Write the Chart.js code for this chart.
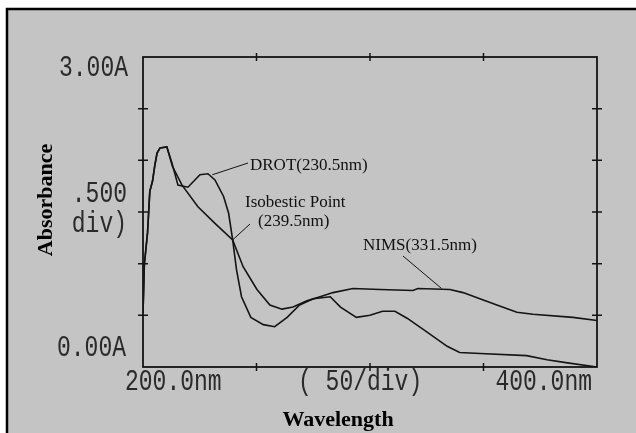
<!DOCTYPE html>
<html>
  <head>
    <title>Absorbance spectra</title>
    <style>
      body { margin: 0; background: #fff; }
    </style>
  </head>
  <body>
    <div style="width: 636px; height: 433px">
      <canvas id="canvas" width="636" height="433"></canvas>
    </div>
    <script src="https://cdn.jsdelivr.net/npm/chart.js@4.4.1/dist/chart.umd.min.js"></script>
    <script>
      // wavelengths (nm) and absorbance
      const drotNm = [200, 200.6, 201, 202, 203, 204.2, 205.2, 206.2, 207.5, 210.5, 212.8, 215.4, 219.8, 225.1, 228.6, 231.7, 235.5, 237.7, 239.5, 241.2, 243.4, 247.5, 253, 258, 263.5, 269, 275, 282.5, 287, 294, 300, 305.5, 311, 316.5, 325, 334, 339.5, 348.5, 369, 378, 387, 400];
      const drotAbs = [0.52, 1.0, 1.08, 1.3, 1.7, 1.8, 1.95, 2.07, 2.12, 2.13, 1.97, 1.76, 1.74, 1.86, 1.87, 1.81, 1.65, 1.49, 1.23, 0.94, 0.68, 0.48, 0.41, 0.39, 0.48, 0.6, 0.66, 0.68, 0.58, 0.48, 0.5, 0.54, 0.54, 0.47, 0.34, 0.2, 0.14, 0.13, 0.11, 0.07, 0.04, 0.0];
      const nimsNm = [200, 200.6, 201, 202, 203, 204.2, 205.2, 206.2, 207.5, 210.5, 213, 217.2, 224.2, 231.7, 239.5, 244.1, 250.2, 255.9, 261.2, 266.1, 272.2, 278, 283.7, 292.5, 304.4, 318.9, 321.1, 335.2, 341, 348.4, 355.9, 364.7, 371.8, 389.4, 400];
      const nimsAbs = [0.52, 1.0, 1.08, 1.3, 1.7, 1.8, 1.95, 2.07, 2.12, 2.13, 1.94, 1.76, 1.55, 1.39, 1.23, 0.97, 0.75, 0.6, 0.56, 0.58, 0.64, 0.68, 0.72, 0.76, 0.75, 0.74, 0.76, 0.75, 0.72, 0.66, 0.6, 0.53, 0.51, 0.48, 0.45];

      const xTicks = [200, 250, 300, 350, 400];
      const yTicks = [0, 0.5, 1, 1.5, 2, 2.5, 3];

      const ink = "#141414";

      function scaledText(ctx, text, x, y, align, font, sy) {
        ctx.save();
        ctx.font = font;
        ctx.textAlign = align;
        ctx.textBaseline = "middle";
        ctx.translate(x, y);
        ctx.scale(1, sy);
        ctx.fillText(text, 0, 0);
        ctx.restore();
      }

      const frame = {
        id: "frame",
        beforeDraw(chart) {
          const ctx = chart.ctx;
          ctx.save();
          ctx.fillStyle = "#fff";
          ctx.fillRect(0, 0, chart.width, chart.height);
          ctx.fillStyle = "#c4c4c4";
          ctx.fillRect(7, 9, chart.width - 7, chart.height - 9);
          ctx.strokeStyle = "#000";
          ctx.lineWidth = 2.5;
          ctx.beginPath();
          ctx.moveTo(7, chart.height);
          ctx.lineTo(7, 9);
          ctx.lineTo(chart.width, 9);
          ctx.stroke();
          ctx.restore();
        },
        afterDraw(chart) {
          const ctx = chart.ctx;
          const x = chart.scales.x, y = chart.scales.y;
          const a = chart.chartArea;
          ctx.save();
          ctx.strokeStyle = ink;
          ctx.lineWidth = 1.8;
          ctx.strokeRect(a.left, a.top, a.right - a.left, a.bottom - a.top);
          ctx.lineWidth = 1.5;
          ctx.beginPath();
          xTicks.slice(1, -1).forEach((v) => {
            const px = x.getPixelForValue(v);
            ctx.moveTo(px, a.top - 4); ctx.lineTo(px, a.top + 4);
            ctx.moveTo(px, a.bottom - 4); ctx.lineTo(px, a.bottom + 4);
          });
          yTicks.slice(1, -1).forEach((v) => {
            const py = y.getPixelForValue(v);
            ctx.moveTo(a.left - 5, py); ctx.lineTo(a.left + 5, py);
            ctx.moveTo(a.right - 5, py); ctx.lineTo(a.right + 5, py);
          });
          ctx.stroke();

          // instrument labels
          ctx.fillStyle = "#2a2a2a";
          const mono = "23px 'Liberation Mono'";
          scaledText(ctx, "3.00A", a.left - 15, a.top + 11, "right", mono, 1.3);
          scaledText(ctx, ".500", a.left - 16, y.getPixelForValue(1.67), "right", mono, 1.3);
          scaledText(ctx, "div)", a.left - 16, y.getPixelForValue(1.38), "right", mono, 1.3);
          scaledText(ctx, "0.00A", a.left - 17, a.bottom - 19, "right", mono, 1.3);
          scaledText(ctx, "200.0nm", a.left - 18, a.bottom + 15, "left", mono, 1.3);
          scaledText(ctx, "( 50/div)", x.getPixelForValue(300) - 72, a.bottom + 15, "left", mono, 1.3);
          scaledText(ctx, "400.0nm", a.right - 5, a.bottom + 15, "right", mono, 1.3);

          // axis titles
          ctx.fillStyle = "#000";
          ctx.font = "bold 22px 'Liberation Serif'";
          ctx.textAlign = "center";
          ctx.textBaseline = "middle";
          ctx.fillText("Wavelength", 338, 420);
          ctx.save();
          ctx.translate(46, 200);
          ctx.rotate(-Math.PI / 2);
          ctx.fillText("Absorbance", 0, 0);
          ctx.restore();

          // annotations with leader lines
          ctx.font = "17px 'Liberation Serif'";
          ctx.textAlign = "left";
          ctx.fillStyle = "#111";
          ctx.fillText("DROT(230.5nm)", 250, 166);
          ctx.fillText("Isobestic Point", 245, 203);
          ctx.fillText("(239.5nm)", 258, 222);
          ctx.fillText("NIMS(331.5nm)", 363, 246);
          ctx.lineWidth = 1;
          ctx.beginPath();
          ctx.moveTo(x.getPixelForValue(230.5), y.getPixelForValue(1.86));
          ctx.lineTo(248, 163);
          ctx.moveTo(x.getPixelForValue(239.5), y.getPixelForValue(1.23));
          ctx.lineTo(250, 224);
          ctx.moveTo(x.getPixelForValue(331.5), y.getPixelForValue(0.76));
          ctx.lineTo(403, 256);
          ctx.stroke();
          ctx.restore();
        }
      };

      const toPoints = (xs, ys) => xs.map((v, i) => ({ x: v, y: ys[i] }));

      new Chart(document.getElementById("canvas").getContext("2d"), {
        type: "line",
        data: {
          datasets: [
            {
              label: "DROT",
              data: toPoints(drotNm, drotAbs),
              borderColor: ink,
              borderWidth: 1.6,
              pointRadius: 0,
              tension: 0
            },
            {
              label: "NIMS",
              data: toPoints(nimsNm, nimsAbs),
              borderColor: ink,
              borderWidth: 1.6,
              pointRadius: 0,
              tension: 0
            }
          ]
        },
        options: {
          responsive: false,
          animation: false,
          layout: { padding: { left: 143, top: 57, right: 39, bottom: 66 } },
          plugins: {
            legend: { display: false },
            tooltip: { enabled: false }
          },
          scales: {
            x: { type: "linear", min: 200, max: 400, display: false },
            y: { type: "linear", min: 0, max: 3, display: false }
          }
        },
        plugins: [frame]
      });
    </script>
  </body>
</html>
